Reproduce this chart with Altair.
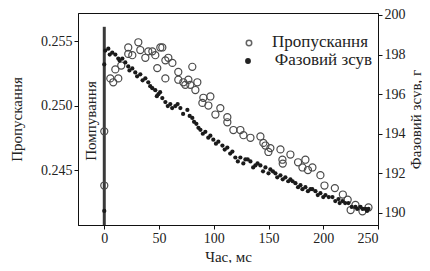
import altair as alt
import pandas as pd

# Transmission (open circles), left axis
trans_t = [0, 0, 5.5, 8.2, 10.1, 12.8, 15.5, 21.9, 21.9, 25.6, 31.1, 32.9, 37.5, 40.2, 43.9, 46.6,
           48.4, 51.2, 53.0, 55.8, 58.5, 62.2, 55.8, 67.6, 67.6, 74.0, 80.4, 76.8, 72.2, 78.6, 85.0,
           83.2, 90.5, 96.9, 89.6, 95.1, 106.0, 101.5, 112.4, 112.4, 117.9, 124.3, 127.1, 133.5,
           142.6, 145.3, 151.7, 147.2, 149.9, 162.7, 160.9, 170.0, 181.0, 190.1, 183.7, 201.1,
           197.4, 210.6, 217.9, 222.3, 225.0, 229.4, 235.8, 241.3, 163.0, 177.0, 186.0]
trans_v = [0.2480, 0.2438, 0.2521, 0.2518, 0.2528, 0.2521, 0.2531, 0.2540, 0.2545, 0.2539, 0.2549,
           0.2543, 0.2537, 0.2542, 0.2542, 0.2539, 0.2529, 0.2545, 0.2545, 0.2535, 0.2537, 0.2533,
           0.2521, 0.2520, 0.2526, 0.2516, 0.2530, 0.2520, 0.2518, 0.2516, 0.2518, 0.2512, 0.2506,
           0.2507, 0.2502, 0.2500, 0.2498, 0.2493, 0.2491, 0.2487, 0.2481, 0.2481, 0.2477, 0.2475,
           0.2476, 0.2471, 0.2467, 0.2469, 0.2464, 0.2458, 0.2466, 0.2462, 0.2452, 0.2452, 0.2458,
           0.2438, 0.2446, 0.2436, 0.2431, 0.2427, 0.2419, 0.2423, 0.2418, 0.2421, 0.2455, 0.2456,
           0.2450]

# Phase shift (filled dots), right axis
phase_t = [0, 0, 0.9, 3.7, 7.3, 10.1, 12.8, 16.5, 19.2, 21.9, 25.6, 28.3, 32.9, 37.5, 40.2, 43.9,
           46.6, 49.4, 53.0, 55.8, 60.3, 64.9, 69.5, 75.9, 80.4, 84.1, 87.8, 92.3, 96.9, 99.6, 104.2,
           107.9, 112.4, 117.0, 119.7, 124.3, 128.9, 133.5, 138.0, 142.6, 147.2, 151.7, 156.3,
           160.9, 165.4, 170.0, 174.6, 179.2, 183.7, 188.3, 192.9, 197.4, 202.0, 208.4, 213.9,
           217.6, 223.0, 229.4, 234.0, 238.6, 241.3,
           5, 14, 23, 30, 35, 42, 48, 51, 58, 62, 67, 72, 78, 82, 86, 90, 95, 102, 110, 115, 122,
           127, 131, 136, 140, 145, 150, 154, 158, 163, 168, 172, 177, 181, 186, 190, 195, 200,
           205, 211, 215, 220, 226, 231, 236, 240]
phase_v = [190.1, 197.5, 198.2, 198.3, 198.1, 198.0, 197.8, 197.8, 197.6, 197.4, 197.3, 197.1,
           197.0, 196.8, 196.6, 196.3, 196.2, 196.0, 195.8, 195.6, 195.5, 195.4, 195.3, 195.2,
           194.8, 194.5, 194.2, 194.1, 193.9, 193.7, 193.6, 193.4, 193.3, 193.1, 192.8, 192.8,
           192.7, 192.6, 192.4, 192.4, 192.3, 192.2, 192.0, 191.9, 191.8, 191.7, 191.5, 191.4,
           191.3, 191.2, 191.1, 191.0, 190.9, 190.8, 190.7, 190.6, 190.5, 190.3, 190.3, 190.2,
           190.2,
           198.0, 197.7, 197.2, 196.9, 196.7, 196.4, 195.9, 196.1, 195.4, 195.3, 195.5, 195.0,
           194.9, 194.6, 194.3, 194.0, 193.8, 193.5, 193.2, 193.0, 192.6, 192.5, 192.7, 192.3,
           192.5, 192.1, 192.0, 192.1, 191.8, 191.7, 191.6, 191.6, 191.3, 191.2, 191.1, 191.2,
           190.9, 190.8, 190.8, 190.6, 190.5, 190.5, 190.3, 190.2, 190.2, 190.1]

x_ticks = [0, 50, 100, 150, 200, 250]
left_ticks = [0.245, 0.250, 0.255]
right_ticks = [190, 192, 194, 196, 198, 200]

pump_t = [0]
pump_lo = [0.24074]
pump_hi = [0.2561]
pump_label = ["Помпування"]
pump_label_t = [-12]
pump_label_v = [0.2488]

FONT = "Liberation Serif"
INK = "#222222"

xscale = alt.Scale(domain=[-24, 250], nice=False, zero=False)
lscale = alt.Scale(domain=[0.24074, 0.25717], nice=False, zero=False)
rscale = alt.Scale(domain=[189.39, 200.1], nice=False, zero=False)

xaxis = alt.Axis(values=x_ticks, title="Час, мс", format="d", grid=False)

tdf = pd.DataFrame({"t": trans_t, "v": trans_v})
pdf = pd.DataFrame({"t": phase_t, "v": phase_v})
bar_df = pd.DataFrame({"t": pump_t, "lo": pump_lo, "hi": pump_hi})
lab_df = pd.DataFrame({"t": pump_label_t, "v": pump_label_v, "s": pump_label})

circles = alt.Chart(tdf).mark_point(shape="circle", filled=False, size=50, strokeWidth=1.2,
                                    color="#4a4a4a", opacity=1).encode(
    x=alt.X("t:Q", scale=xscale, axis=xaxis),
    y=alt.Y("v:Q", scale=lscale,
            axis=alt.Axis(values=left_ticks, format=".3f", title="Пропускання", orient="left",
                          grid=False, titlePadding=16)),
)

bar = alt.Chart(bar_df).mark_rule(color="#3a3a3a", strokeWidth=3).encode(
    x=alt.X("t:Q", scale=xscale),
    y=alt.Y("lo:Q", scale=lscale),
    y2="hi:Q",
)

pump_text = alt.Chart(lab_df).mark_text(angle=270, font=FONT, fontSize=15, color=INK,
                                        baseline="middle", align="center").encode(
    x=alt.X("t:Q", scale=xscale),
    y=alt.Y("v:Q", scale=lscale),
    text="s:N",
)

left_layer = alt.layer(bar, circles, pump_text)

dots = alt.Chart(pdf).mark_circle(size=18, color="#1a1a1a", opacity=1).encode(
    x=alt.X("t:Q", scale=xscale, axis=xaxis),
    y=alt.Y("v:Q", scale=rscale,
            axis=alt.Axis(values=right_ticks, format="d", title="Фазовий зсув, г", orient="right",
                          grid=False, titleAngle=270, titlePadding=18)),
)

leg_df = pd.DataFrame({"s": ["Пропускання", "Фазовий зсув"], "k": ["o", "f"]})
leg_text1 = alt.Chart(leg_df[leg_df.k == "o"]).mark_text(
    font=FONT, fontSize=17, color=INK, align="right",
    baseline="middle").encode(x=alt.value(290), y=alt.value(29), text="s:N")
leg_text2 = alt.Chart(leg_df[leg_df.k == "f"]).mark_text(
    font=FONT, fontSize=17, color=INK, align="right",
    baseline="middle").encode(x=alt.value(294), y=alt.value(47), text="s:N")
leg_sym1 = alt.Chart(leg_df[leg_df.k == "o"]).mark_point(
    shape="circle", filled=False, size=30, strokeWidth=1.5, color=INK).encode(
    x=alt.value(171), y=alt.value(30))
leg_sym2 = alt.Chart(leg_df[leg_df.k == "f"]).mark_circle(size=34, color=INK, opacity=1).encode(
    x=alt.value(170), y=alt.value(48))

chart = alt.layer(left_layer, dots, leg_text1, leg_text2, leg_sym1, leg_sym2).resolve_scale(
    y="independent"
).properties(
    width=300, height=212,
    autosize=alt.AutoSizeParams(type="none"),
    padding={"left": 70, "top": 5, "right": 44, "bottom": 38},
).configure_view(
    stroke="#111111", strokeWidth=1
).configure_axis(
    labelFont=FONT, titleFont=FONT, labelFontSize=14, titleFontSize=15,
    labelColor=INK, titleColor=INK, domainColor="#111111", tickColor="#111111",
    tickSize=4, labelPadding=2, titleFontWeight="normal",
).configure_axisBottom(titlePadding=4)

chart.save("out.html", embed_options={"renderer": "svg", "actions": False})
